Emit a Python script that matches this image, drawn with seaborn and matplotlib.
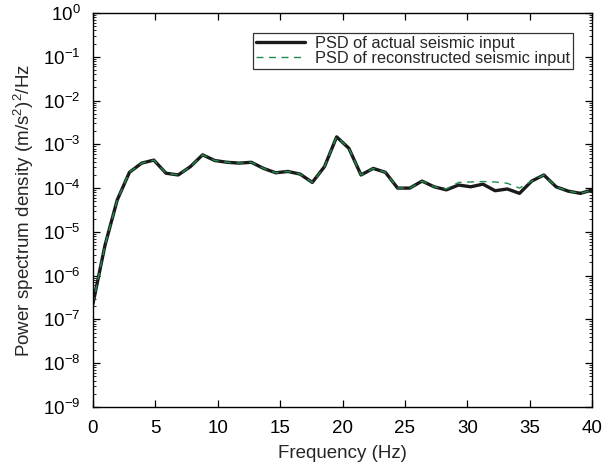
import numpy as np
import pandas as pd
import matplotlib
matplotlib.use("Agg")
import matplotlib.pyplot as plt
import matplotlib.ticker as mticker
from matplotlib.lines import Line2D
import seaborn as sns

# frequency bins (Hz) and log10 PSD values
freq = [0.0, 0.977, 1.953, 2.930, 3.906, 4.883, 5.859, 6.836, 7.813, 8.789,
        9.766, 10.742, 11.719, 12.695, 13.672, 14.648, 15.625, 16.602, 17.578, 18.555,
        19.531, 20.508, 21.484, 22.461, 23.438, 24.414, 25.391, 26.367, 27.344, 28.320,
        29.297, 30.273, 31.250, 32.227, 33.203, 34.180, 35.156, 36.133, 37.109, 38.086,
        39.063, 40.039]
log_actual = [-6.65, -5.30, -4.27, -3.64, -3.43, -3.36, -3.66, -3.70, -3.51, -3.24,
              -3.37, -3.41, -3.43, -3.41, -3.55, -3.65, -3.62, -3.68, -3.87, -3.51,
              -2.83, -3.09, -3.70, -3.55, -3.64, -4.00, -4.00, -3.84, -3.97, -4.04,
              -3.93, -3.97, -3.91, -4.06, -4.02, -4.12, -3.84, -3.70, -3.97, -4.07,
              -4.12, -4.04]
log_recon = [-6.65, -5.30, -4.27, -3.64, -3.43, -3.36, -3.66, -3.70, -3.51, -3.24,
             -3.37, -3.41, -3.43, -3.41, -3.55, -3.65, -3.62, -3.68, -3.87, -3.51,
             -2.83, -3.09, -3.70, -3.55, -3.64, -4.00, -4.00, -3.84, -3.97, -4.02,
             -3.87, -3.86, -3.85, -3.86, -3.89, -4.00, -3.84, -3.70, -3.97, -4.07,
             -4.12, -4.04]
series_names = ["PSD of actual seismic input", "PSD of reconstructed seismic input"]
x_ticks = [0, 5, 10, 15, 20, 25, 30, 35, 40]
y_decades = list(range(-9, 1))

sns.set_style("ticks")
plt.rcParams["font.family"] = ["Liberation Sans", "DejaVu Sans"]
plt.rcParams["mathtext.fontset"] = "custom"
plt.rcParams["mathtext.rm"] = "Liberation Sans"
plt.rcParams["mathtext.it"] = "Liberation Sans:italic"
plt.rcParams["mathtext.default"] = "regular"

black = "#1a1a1a"
green = "#218c4a"

df = pd.DataFrame({
    "freq": freq * 2,
    "psd": [10 ** v for v in log_actual] + [10 ** v for v in log_recon],
    "series": [series_names[0]] * len(freq) + [series_names[1]] * len(freq),
})

fig = plt.figure(figsize=(6.03, 4.72), dpi=100)
ax = fig.add_axes([0.154, 0.1377, 0.828, 0.8348])

sns.lineplot(data=df, x="freq", y="psd", hue="series", style="series",
             palette={series_names[0]: black, series_names[1]: green},
             dashes={series_names[0]: "", series_names[1]: (5, 4)},
             size="series", sizes={series_names[0]: 2.4, series_names[1]: 1.0},
             ax=ax, legend=False)

ax.set_yscale("log")
ax.set_xlim(0, 40)
ax.set_ylim(1e-9, 1e0)
ax.set_xticks(x_ticks)
ax.set_xticklabels([str(t) for t in x_ticks])
ax.set_yticks([10.0 ** d for d in y_decades])
ax.set_yticklabels([r"$10^{%d}$" % d for d in y_decades])
ax.yaxis.set_minor_locator(mticker.LogLocator(base=10, subs=np.arange(2, 10), numticks=20))
ax.yaxis.set_minor_formatter(mticker.NullFormatter())

ax.tick_params(axis="both", which="major", direction="in", length=5, width=0.9,
               top=True, right=True, labelsize=13.5, pad=9, colors="black")
ax.tick_params(axis="y", which="minor", direction="in", length=2.5, width=0.7,
               left=True, right=True)
for s in ax.spines.values():
    s.set_visible(True)
    s.set_linewidth(1.0)
    s.set_color("black")

ax.set_xlabel("Frequency (Hz)", fontsize=13.5, labelpad=6)
ax.set_ylabel(r"Power spectrum density (m/s$^2$)$^2$/Hz", fontsize=13.5, labelpad=5)

handles = [Line2D([], [], color=black, lw=2.4),
           Line2D([], [], color=green, lw=1.0, dashes=(5, 4))]
leg = ax.legend(handles, series_names, loc="upper right", bbox_to_anchor=(0.962, 0.95),
                borderaxespad=0, fontsize=11.8, frameon=True, fancybox=False,
                edgecolor="black", handlelength=3.0, borderpad=0.2, labelspacing=0.0,
                handletextpad=0.6)
leg.get_frame().set_linewidth(0.9)

fig.savefig("out.png", dpi=100)
